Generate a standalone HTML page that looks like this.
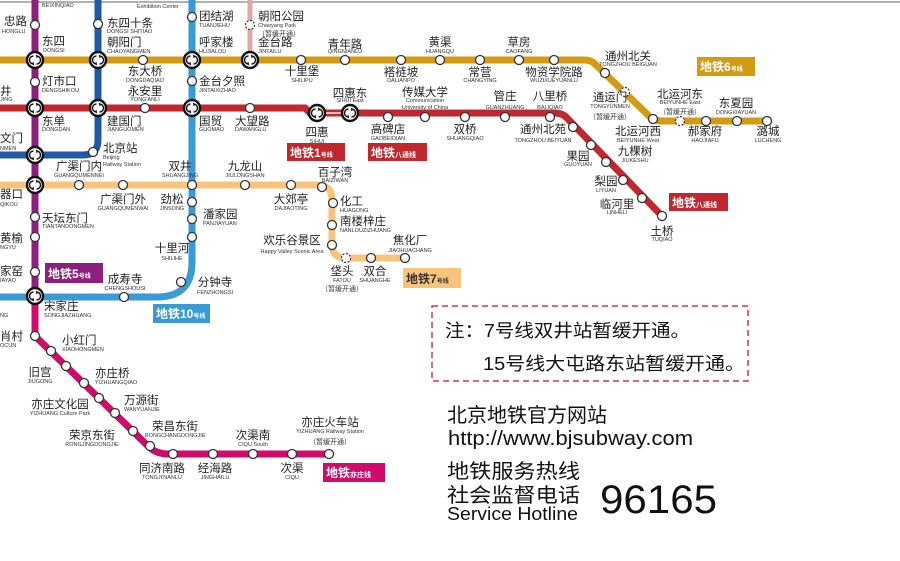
<!DOCTYPE html>
<html><head><meta charset="utf-8"><style>
html,body{margin:0;padding:0;background:#fff;}
svg{display:block;font-family:"Liberation Sans","Noto Sans CJK SC",sans-serif;}
.c{font-size:11.5px;fill:#222;}
.p{font-size:5.5px;fill:#333;}
.m{text-anchor:middle;}
.s{fill:#fff;stroke:#333;stroke-width:1.3;}
.d{fill:#fff;stroke:#333;stroke-width:1.2;stroke-dasharray:2 1.5;}
.bx{font-size:12px;fill:#fff;font-weight:bold;}
</style></head><body>
<svg width="900" height="561" viewBox="0 0 900 561" xmlns="http://www.w3.org/2000/svg">
<defs>
<symbol id="t" viewBox="-10 -10 20 20" overflow="visible">
<circle r="8" fill="#fff" stroke="#111" stroke-width="2.4"/>
<path d="M-1.5,-4 A4,4 0 0 0 -1.5,4" fill="none" stroke="#111" stroke-width="1.4"/>
<path d="M1.5,4 A4,4 0 0 0 1.5,-4" fill="none" stroke="#111" stroke-width="1.4"/>
<path d="M-3.5,3 L-1.5,4.5 L-2,2" fill="none" stroke="#111" stroke-width="1"/>
<path d="M3.5,-3 L1.5,-4.5 L2,-2" fill="none" stroke="#111" stroke-width="1"/>
</symbol>
</defs>
<rect x="0" y="0" width="900" height="561" fill="#fff"/>
<line x1="0" y1="2" x2="900" y2="2" stroke="#999" stroke-width="1.5"/>

<line x1="250" y1="0" x2="250" y2="60" stroke="#e2a9a4" stroke-width="5"/>
<path d="M0,185 H318 Q332,185 332,200 V244 Q332,258 346,258 H405" fill="none" stroke="#f8c47c" stroke-width="7"/>
<path d="M0,60 H585 Q592,60 597,66 L647,114 Q653,121 662,121 H767" fill="none" stroke="#d39b12" stroke-width="7"/>
<path d="M0,108 H305 L310,113 H555 Q563,113 568,119 L662,216" fill="none" stroke="#c1272d" stroke-width="7"/>
<line x1="317" y1="113" x2="350" y2="113" stroke="#f4c2c2" stroke-width="2"/>
<path d="M98,0 V140 Q98,155 83,155 H0" fill="none" stroke="#1f5aa6" stroke-width="7"/>
<path d="M192,0 V262 Q192,297 157,297 H0" fill="none" stroke="#3a9ad4" stroke-width="7"/>
<line x1="35" y1="0" x2="35" y2="296" stroke="#8e1f7c" stroke-width="7"/>
<path d="M35,296 V336 L148,446 Q156,454 168,454 H329" fill="none" stroke="#cf0c6b" stroke-width="7"/>

<g class="s">
<circle cx="35" cy="25" r="4.5"/><circle cx="35" cy="82" r="4.5"/><circle cx="35" cy="217" r="4.5"/><circle cx="35" cy="237" r="4.5"/><circle cx="35" cy="272" r="4.5"/>
<circle cx="98" cy="24" r="4.5"/><circle cx="93" cy="152" r="4.5"/>
<circle cx="192" cy="17" r="4.5"/><circle cx="192" cy="81" r="4.5"/><circle cx="192" cy="185" r="4.5"/><circle cx="192" cy="202" r="4.5"/><circle cx="192" cy="219" r="4.5"/><circle cx="192" cy="237" r="4.5"/><circle cx="181" cy="282" r="4.5"/><circle cx="124" cy="297" r="4.5"/>
<circle cx="143" cy="60" r="4.5"/><circle cx="301" cy="60" r="4.5"/><circle cx="345" cy="60" r="4.5"/><circle cx="401" cy="60" r="4.5"/><circle cx="440" cy="60" r="4.5"/><circle cx="480" cy="60" r="4.5"/><circle cx="519" cy="60" r="4.5"/><circle cx="554" cy="60" r="4.5"/><circle cx="605" cy="73" r="4.5"/><circle cx="653" cy="119" r="4.5"/><circle cx="706" cy="121" r="4.5"/><circle cx="737" cy="121" r="4.5"/><circle cx="767" cy="121" r="4.5"/>
<circle cx="145" cy="108" r="4.5"/><circle cx="250" cy="108" r="4.5"/><circle cx="388" cy="117" r="4.5"/><circle cx="425" cy="117" r="4.5"/><circle cx="465" cy="117" r="4.5"/><circle cx="505" cy="117" r="4.5"/><circle cx="550" cy="117" r="4.5"/><circle cx="573" cy="127" r="4.5"/><circle cx="591" cy="145" r="4.5"/><circle cx="606" cy="162" r="4.5"/><circle cx="623" cy="180" r="4.5"/><circle cx="642" cy="198" r="4.5"/><circle cx="662" cy="216" r="4.5"/>
<circle cx="79" cy="185" r="4.5"/><circle cx="123" cy="185" r="4.5"/><circle cx="245" cy="185" r="4.5"/><circle cx="291" cy="185" r="4.5"/><circle cx="322" cy="187" r="4.5"/><circle cx="333" cy="203" r="4.5"/><circle cx="332" cy="225" r="4.5"/><circle cx="332" cy="245" r="4.5"/><circle cx="371" cy="258" r="4.5"/><circle cx="405" cy="258" r="4.5"/>
<circle cx="35" cy="336" r="4.5"/><circle cx="51" cy="351" r="4.5"/><circle cx="66" cy="366" r="4.5"/><circle cx="84" cy="383" r="4.5"/><circle cx="99" cy="398" r="4.5"/><circle cx="115" cy="413" r="4.5"/><circle cx="133" cy="431" r="4.5"/><circle cx="150" cy="446" r="4.5"/><circle cx="173" cy="454" r="4.5"/><circle cx="213" cy="454" r="4.5"/><circle cx="253" cy="454" r="4.5"/><circle cx="292" cy="454" r="4.5"/><circle cx="329" cy="454" r="4.5"/>
</g>
<g class="d"><circle cx="250" cy="25" r="4.5"/><circle cx="625" cy="92" r="4.5"/><circle cx="680" cy="121" r="4.5"/><circle cx="346" cy="258" r="4.5"/></g>

<use href="#t" x="25" y="50" width="20" height="20"/>
<use href="#t" x="88" y="50" width="20" height="20"/>
<use href="#t" x="182" y="50" width="20" height="20"/>
<use href="#t" x="240" y="50" width="20" height="20"/>
<use href="#t" x="25" y="98" width="20" height="20"/>
<use href="#t" x="88" y="98" width="20" height="20"/>
<use href="#t" x="182" y="98" width="20" height="20"/>
<use href="#t" x="307" y="103" width="20" height="20"/>
<use href="#t" x="340" y="103" width="20" height="20"/>
<use href="#t" x="25" y="145" width="20" height="20"/>
<use href="#t" x="25" y="175" width="20" height="20"/>
<use href="#t" x="25" y="286" width="20" height="20"/>

<rect x="287" y="143" width="58" height="18" fill="#c1272d"/><text x="290" y="157" class="bx">地铁1<tspan font-size="6">号线</tspan></text>
<rect x="368" y="143" width="59" height="18" fill="#c1272d"/><text x="371" y="157" class="bx">地铁<tspan font-size="7">八通线</tspan></text>
<rect x="697" y="57" width="58" height="19" fill="#d39b12"/><text x="700" y="71" class="bx">地铁6<tspan font-size="6">号线</tspan></text>
<rect x="669" y="193" width="59" height="18" fill="#c1272d"/><text x="672" y="207" class="bx">地铁<tspan font-size="7">八通线</tspan></text>
<rect x="45" y="263" width="58" height="20" fill="#8e1f7c"/><text x="48" y="278" class="bx">地铁5<tspan font-size="6">号线</tspan></text>
<rect x="153" y="304" width="57" height="19" fill="#3a9ad4"/><text x="156" y="318" class="bx">地铁10<tspan font-size="6">号线</tspan></text>
<rect x="403" y="268" width="58" height="20" fill="#f8c47c"/><text x="406" y="283" class="bx" style="fill:#333">地铁7<tspan font-size="6">号线</tspan></text>
<rect x="323" y="463" width="62" height="19" fill="#cf0c6b"/><text x="326" y="477" class="bx">地铁<tspan font-size="7">亦庄线</tspan></text>

<g class="c">
<text x="4" y="25">忠路</text><text x="42" y="45">东四</text><text x="107" y="27">东四十条</text><text x="107" y="46">朝阳门</text>
<text x="199" y="20">团结湖</text><text x="199" y="46">呼家楼</text><text x="258" y="20">朝阳公园</text><text x="258" y="46">金台路</text>
<text x="42" y="85">灯市口</text><text x="199" y="85">金台夕照</text><text x="0" y="95">井</text>
<text x="42" y="125">东单</text><text x="107" y="125">建国门</text><text x="199" y="125">国贸</text><text x="235" y="125">大望路</text>
<text x="0" y="142">文门</text><text x="103" y="152">北京站</text>
<text x="0" y="198">器口</text><text x="340" y="205">化工</text><text x="42" y="222">天坛东门</text><text x="203" y="218">潘家园</text><text x="340" y="225">南楼梓庄</text>
<text x="0" y="242">黄榆</text><text x="0" y="275">家窑</text><text x="44" y="310">宋家庄</text>
<text x="0" y="340">肖村</text><text x="62" y="344">小红门</text><text x="95" y="377">亦庄桥</text><text x="124" y="404">万源街</text>
</g>
<g class="c m">
<text x="145" y="75">东大桥</text><text x="302" y="75">十里堡</text><text x="145" y="95">永安里</text><text x="317" y="136">四惠</text>
<text x="79" y="170">广渠门内</text><text x="180" y="170">双井</text><text x="245" y="170">九龙山</text>
<text x="345" y="48">青年路</text><text x="440" y="46">黄渠</text><text x="519" y="46">草房</text>
<text x="401" y="76">褡裢坡</text><text x="480" y="76">常营</text><text x="554" y="76">物资学院路</text>
<text x="350" y="97">四惠东</text><text x="425" y="96">传媒大学</text><text x="505" y="100">管庄</text><text x="550" y="100">八里桥</text>
<text x="388" y="133">高碑店</text><text x="465" y="133">双桥</text><text x="543" y="133">通州北苑</text>
<text x="610" y="101">通运门</text><text x="578" y="160">果园</text><text x="606" y="185">梨园</text><text x="335" y="176">百子湾</text>
<text x="628" y="60">通州北关</text><text x="680" y="98">北运河东</text><text x="736" y="107">东夏园</text>
<text x="638" y="135">北运河西</text><text x="705" y="135">郝家府</text><text x="768" y="135">潞城</text>
<text x="635" y="155">九棵树</text><text x="617" y="208">临河里</text><text x="662" y="235">土桥</text>
<text x="123" y="203">广渠门外</text><text x="172" y="203">劲松</text><text x="291" y="203">大郊亭</text>
<text x="292" y="244">欢乐谷景区</text><text x="410" y="244">焦化厂</text><text x="172" y="252">十里河</text>
<text x="342" y="275">垡头</text><text x="375" y="275">双合</text><text x="125" y="283">成寿寺</text><text x="215" y="286">分钟寺</text>
<text x="40" y="376">旧宫</text><text x="60" y="408">亦庄文化园</text><text x="92" y="439">荣京东街</text><text x="175" y="430">荣昌东街</text>
<text x="253" y="439">次渠南</text><text x="330" y="426">亦庄火车站</text>
<text x="162" y="472">同济南路</text><text x="215" y="472">经海路</text><text x="292" y="472">次渠</text>
</g>
<g class="p">
<text x="42" y="7">BEIXINQIAO</text><text x="137" y="8">Exhibition Center</text><text x="2" y="33">HONGLU</text>
<text x="43" y="52">DONGSI</text><text x="107" y="33">DONGSI SHITIAO</text><text x="107" y="53">CHAOYANGMEN</text>
<text x="199" y="27">TUANJIEHU</text><text x="199" y="53">HUJIALOU</text><text x="258" y="27">Chaoyang Park</text><text x="258" y="53">JINTAILU</text>
<text x="42" y="92">DENGSHIKOU</text><text x="199" y="92">JINTAIXIZHAO</text><text x="0" y="101">JING</text>
<text x="42" y="131">DONGDAN</text><text x="107" y="131">JIANGUOMEN</text><text x="199" y="131">GUOMAO</text><text x="235" y="131">DAWANGLU</text>
<text x="0" y="150">NMEN</text><text x="103" y="159">Beijing</text><text x="103" y="166">Railway Station</text>
<text x="0" y="206">QIKOU</text><text x="340" y="212">HUAGONG</text><text x="42" y="228">TIANTANDONGMEN</text><text x="203" y="225">PANJIAYUAN</text><text x="340" y="232">NANLOUZIZHUANG</text>
<text x="0" y="249">NGYU</text><text x="0" y="282">IAYAO</text><text x="44" y="317">SONGJIAZHUANG</text><text x="0" y="317">NG</text>
<text x="0" y="347">OCUN</text><text x="62" y="351">XIAOHONGMEN</text><text x="95" y="384">YIZHUANGQIAO</text><text x="124" y="411">WANYUANJIE</text>
</g>
<g class="p m">
<text x="145" y="82">DONGDAQIAO</text><text x="302" y="82">SHILIPU</text><text x="145" y="101">YONG'ANLI</text><text x="317" y="143">SIHUI</text>
<text x="79" y="177">GUANGQUMENNEI</text><text x="180" y="177">SHUANGJING</text><text x="245" y="177">JIULONGSHAN</text>
<text x="345" y="53">QINGNIANLU</text><text x="440" y="53">HUANGQU</text><text x="519" y="53">CAOFANG</text>
<text x="401" y="82">DALIANPO</text><text x="480" y="82">CHANGYING</text><text x="554" y="82">WUZIXUEYUANLU</text>
<text x="350" y="102">SIHUI East</text><text x="425" y="102">Communication</text><text x="425" y="109">University of China</text><text x="505" y="109">GUANZHUANG</text><text x="550" y="109">BALIQIAO</text>
<text x="388" y="140">GAOBEIDIAN</text><text x="465" y="140">SHUANGQIAO</text><text x="543" y="142">TONGZHOU BEIYUAN</text>
<text x="610" y="108">TONGYUNMEN</text><text x="578" y="166">GUOYUAN</text><text x="606" y="192">LIYUAN</text><text x="335" y="182">BAIZIWAN</text>
<text x="628" y="66">TONGZHOU BEIGUAN</text><text x="680" y="104">BEIYUNHE East</text><text x="736" y="114">DONGXIAYUAN</text>
<text x="638" y="142">BEIYUNHE West</text><text x="705" y="142">HAOJIAFU</text><text x="768" y="142">LUCHENG</text>
<text x="635" y="162">JIUKESHU</text><text x="617" y="214">LINHELI</text><text x="662" y="241">TUQIAO</text>
<text x="123" y="210">GUANGQUMENWAI</text><text x="172" y="210">JINSONG</text><text x="291" y="210">DAJIAOTING</text>
<text x="292" y="253">Happy Valley Scenic Area</text><text x="410" y="252">JIAOHUACHANG</text><text x="172" y="260">SHILIHE</text>
<text x="342" y="282">FATOU</text><text x="375" y="282">SHUANGHE</text><text x="125" y="290">CHENGSHOUSI</text><text x="215" y="294">FENZHONGSI</text>
<text x="40" y="383">JIUGONG</text><text x="60" y="415">YIZHUANG Culture Park</text><text x="92" y="446">RONGJINGDONGJIE</text><text x="175" y="437">RONGCHANGDONGJIE</text>
<text x="253" y="446">CIQU South</text><text x="330" y="433">YIZHUANG Railway Station</text>
<text x="162" y="479">TONGJI'NANLU</text><text x="215" y="479">JINGHAILU</text><text x="292" y="479">CIQU</text>
</g>
<g style="font-size:7px;fill:#333">
<text x="258" y="36">（暂缓开通）</text><text x="610" y="119" text-anchor="middle">（暂缓开通）</text><text x="680" y="114" text-anchor="middle">（暂缓开通）</text>
<text x="342" y="291" text-anchor="middle">（暂缓开通）</text><text x="330" y="444" text-anchor="middle">（暂缓开通）</text>
</g>

<rect x="432" y="306" width="316" height="75" fill="none" stroke="#d43a3a" stroke-width="1.5" stroke-dasharray="6 4"/>
<text x="445" y="337" textLength="245" lengthAdjust="spacingAndGlyphs" style="font-size:18px;fill:#111">注：7号线双井站暂缓开通。</text>
<text x="483" y="370" textLength="262" lengthAdjust="spacingAndGlyphs" style="font-size:18px;fill:#111">15号线大屯路东站暂缓开通。</text>

<text x="447" y="422" textLength="160" lengthAdjust="spacingAndGlyphs" style="font-size:20px;fill:#111">北京地铁官方网站</text>
<text x="448" y="445" textLength="245" lengthAdjust="spacingAndGlyphs" style="font-size:20px;fill:#111">http://www.bjsubway.com</text>
<text x="447" y="478" textLength="133" lengthAdjust="spacingAndGlyphs" style="font-size:20px;fill:#111">地铁服务热线</text>
<text x="447" y="502" textLength="133" lengthAdjust="spacingAndGlyphs" style="font-size:20px;fill:#111">社会监督电话</text>
<text x="447" y="520" textLength="131" lengthAdjust="spacingAndGlyphs" style="font-size:18px;fill:#111">Service Hotline</text>
<text x="600" y="513" textLength="117" lengthAdjust="spacingAndGlyphs" style="font-size:40px;fill:#111">96165</text>
</svg>
</body></html>
